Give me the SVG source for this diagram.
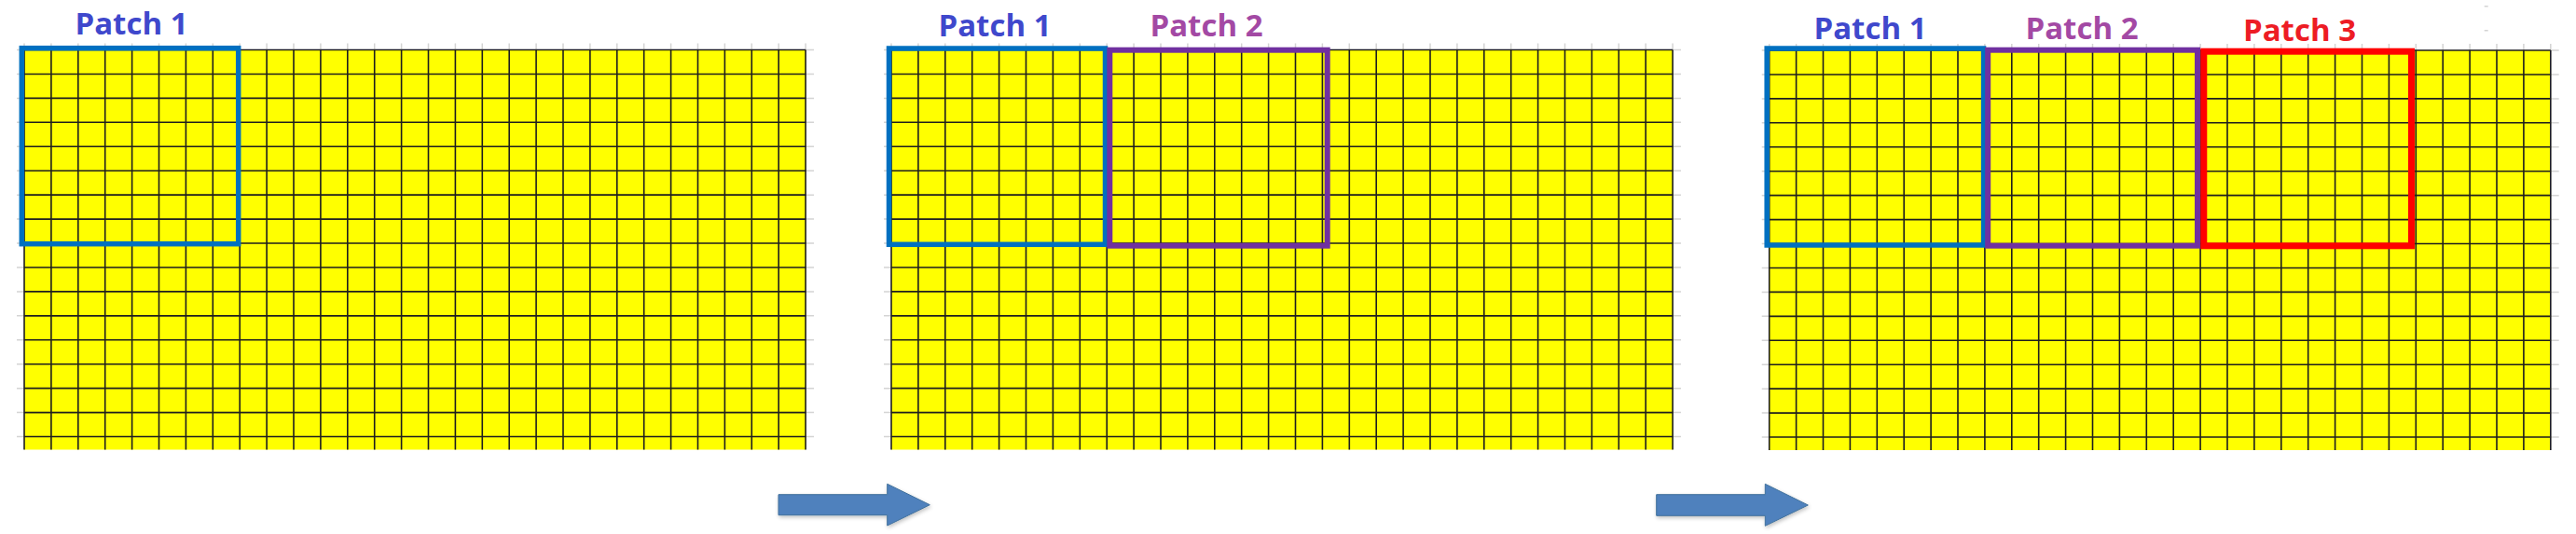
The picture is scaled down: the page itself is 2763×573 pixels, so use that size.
<svg xmlns="http://www.w3.org/2000/svg" xmlns:xlink="http://www.w3.org/1999/xlink" width="2763" height="573" viewBox="0 0 2763 573">
<style>
.lbl{font-family:"Open Sans","Liberation Sans",sans-serif;font-weight:bold;font-size:33px;text-anchor:middle}
.p1{fill:none;stroke:#0070C0;stroke-width:5.5}
.p2{fill:none;stroke:#7030A0;stroke-width:6}
.p3{fill:none;stroke:#FF0000;stroke-width:7}
.gl{fill:none;stroke:#1e1e1e;stroke-width:1.6}
.tk{fill:none;stroke:#d4d4d4;stroke-width:1.5}
.arr{fill:#4F81BD;stroke:#41719C;stroke-width:1}
</style>
<defs>
<g id="grid">
<rect x="0" y="0" width="838.1" height="429" fill="#FFFF00"/>
<path class="tk" d="M-8 0H0M-8 25.94H0M-8 51.88H0M-8 77.82H0M-8 103.76H0M-8 129.7H0M-8 155.64H0M-8 181.58H0M-8 207.52H0M-8 233.46H0M-8 259.4H0M-8 285.34H0M-8 311.28H0M-8 337.22H0M-8 363.16H0M-8 389.1H0M-8 415.04H0
M838.1 0H847M838.1 25.94H847M838.1 51.88H847M838.1 77.82H847M838.1 103.76H847M838.1 129.7H847M838.1 155.64H847M838.1 181.58H847M838.1 207.52H847M838.1 233.46H847M838.1 259.4H847M838.1 285.34H847M838.1 311.28H847M838.1 337.22H847M838.1 363.16H847M838.1 389.1H847M838.1 415.04H847
M0 -7V0M28.9 -7V0M57.8 -7V0M86.7 -7V0M115.6 -7V0M144.5 -7V0M173.4 -7V0M202.3 -7V0M231.2 -7V0M260.1 -7V0M289 -7V0M317.9 -7V0M346.8 -7V0M375.7 -7V0M404.6 -7V0M433.5 -7V0M462.4 -7V0M491.3 -7V0M520.2 -7V0M549.1 -7V0M578 -7V0M606.9 -7V0M635.8 -7V0M664.7 -7V0M693.6 -7V0M722.5 -7V0M751.4 -7V0M780.3 -7V0M809.2 -7V0M838.1 -7V0"/>
<path class="gl" d="M0 0V429M28.9 0V429M57.8 0V429M86.7 0V429M115.6 0V429M144.5 0V429M173.4 0V429M202.3 0V429M231.2 0V429M260.1 0V429M289 0V429M317.9 0V429M346.8 0V429M375.7 0V429M404.6 0V429M433.5 0V429M462.4 0V429M491.3 0V429M520.2 0V429M549.1 0V429M578 0V429M606.9 0V429M635.8 0V429M664.7 0V429M693.6 0V429M722.5 0V429M751.4 0V429M780.3 0V429M809.2 0V429M838.1 0V429
M0 0H838.1M0 25.94H838.1M0 51.88H838.1M0 77.82H838.1M0 103.76H838.1M0 129.7H838.1M0 155.64H838.1M0 181.58H838.1M0 207.52H838.1M0 233.46H838.1M0 259.4H838.1M0 285.34H838.1M0 311.28H838.1M0 337.22H838.1M0 363.16H838.1M0 389.1H838.1M0 415.04H838.1"/>
</g>
<filter id="sh" x="-10%" y="-20%" width="130%" height="160%">
<feGaussianBlur in="SourceAlpha" stdDeviation="2"/>
<feOffset dx="1" dy="2" result="b"/>
<feComponentTransfer><feFuncA type="linear" slope="0.25"/></feComponentTransfer>
<feMerge><feMergeNode/><feMergeNode in="SourceGraphic"/></feMerge>
</filter>
</defs>
<rect width="2763" height="573" fill="#FFFFFF"/>
<path d="M2664.7 6.7h4M2664.7 32.7h4" stroke="#d4d4d4" stroke-width="1.5"/>

<g id="panel1">
<use xlink:href="#grid" x="26" y="53.5"/>
<g id="panel1-patch1">
<rect class="p1" x="23.3" y="51.7" width="232.4" height="210"/>
<text class="lbl" x="141" y="37.3" fill="#3F48CC">Patch 1</text>
</g>
</g>

<g id="panel2">
<use xlink:href="#grid" x="956" y="53.5"/>
<g id="panel2-patch1">
<rect class="p1" x="953.5" y="52" width="232" height="210.3"/>
<text class="lbl" x="1067" y="39" fill="#3F48CC">Patch 1</text>
</g>
<g id="panel2-patch2">
<rect class="p2" x="1190.3" y="53.7" width="233.4" height="210"/>
<text class="lbl" x="1294" y="39" fill="#A349A4">Patch 2</text>
</g>
</g>

<g id="panel3">
<use xlink:href="#grid" x="1897.7" y="54"/>
<g id="panel3-patch1">
<rect class="p1" x="1895.2" y="52" width="232.4" height="211"/>
<text class="lbl" x="2006" y="41.7" fill="#3F48CC">Patch 1</text>
</g>
<g id="panel3-patch2">
<rect class="p2" x="2132.2" y="53.7" width="224.8" height="210"/>
<text class="lbl" x="2233" y="41.7" fill="#A349A4">Patch 2</text>
</g>
<g id="panel3-patch3">
<rect class="p3" x="2363.8" y="55.2" width="222.7" height="208.6"/>
<text class="lbl" x="2466.5" y="44.3" fill="#ED1C24">Patch 3</text>
</g>
</g>

<g id="connectors">
<polygon class="arr" filter="url(#sh)" points="835,530.7 951.7,530.7 951.7,519.3 997.3,541.7 951.7,564 951.7,552.7 835,552.7"/>
<polygon class="arr" filter="url(#sh)" points="1776.7,530.7 1893.3,530.7 1893.3,519.3 1939.3,542 1893.3,564.3 1893.3,553.3 1776.7,553.3"/>
</g>
</svg>
